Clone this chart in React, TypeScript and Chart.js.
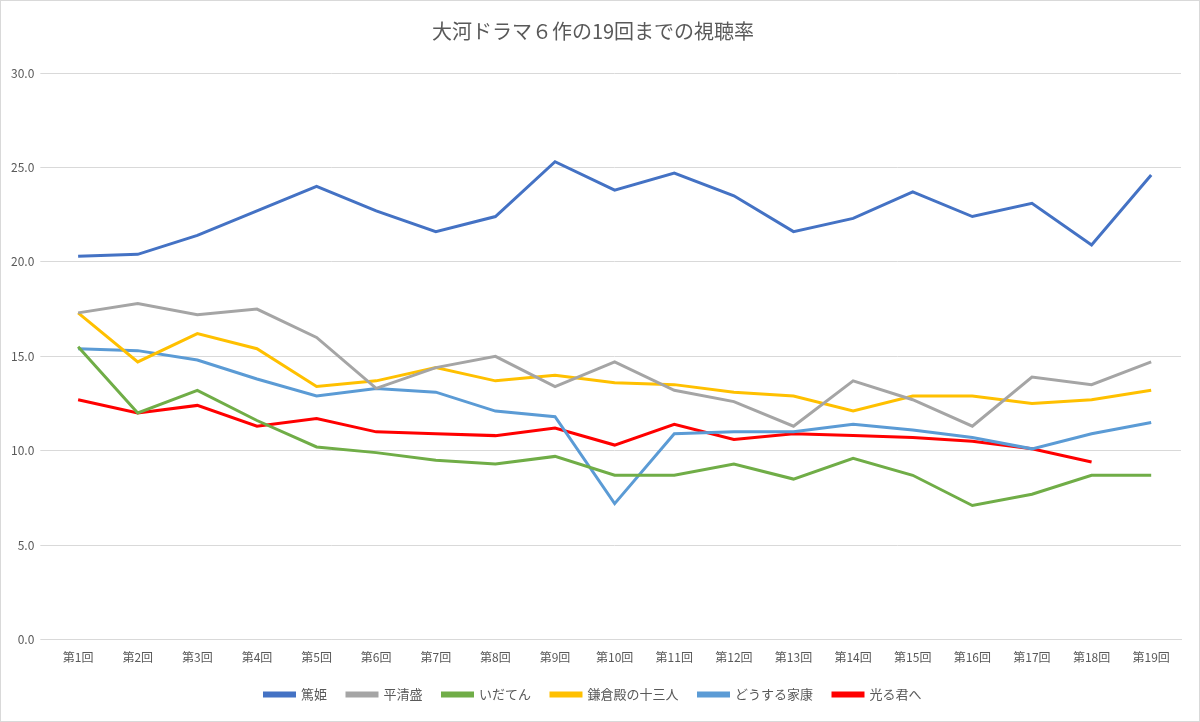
import React, { useEffect, useRef } from "react";
import { Chart, registerables } from "chart.js";
Chart.register(...registerables);

const categories = Array.from({ length: 19 }, (_, i) => `第${i + 1}回`);
const atsuhime = [20.3, 20.4, 21.4, 22.7, 24.0, 22.7, 21.6, 22.4, 25.3, 23.8, 24.7, 23.5, 21.6, 22.3, 23.7, 22.4, 23.1, 20.9, 24.6];
const kiyomori = [17.3, 17.8, 17.2, 17.5, 16.0, 13.3, 14.4, 15.0, 13.4, 14.7, 13.2, 12.6, 11.3, 13.7, 12.7, 11.3, 13.9, 13.5, 14.7];
const idaten = [15.5, 12.0, 13.2, 11.6, 10.2, 9.9, 9.5, 9.3, 9.7, 8.7, 8.7, 9.3, 8.5, 9.6, 8.7, 7.1, 7.7, 8.7, 8.7];
const kamakura = [17.3, 14.7, 16.2, 15.4, 13.4, 13.7, 14.4, 13.7, 14.0, 13.6, 13.5, 13.1, 12.9, 12.1, 12.9, 12.9, 12.5, 12.7, 13.2];
const ieyasu = [15.4, 15.3, 14.8, 13.8, 12.9, 13.3, 13.1, 12.1, 11.8, 7.2, 10.9, 11.0, 11.0, 11.4, 11.1, 10.7, 10.1, 10.9, 11.5];
const hikarukimi = [12.7, 12.0, 12.4, 11.3, 11.7, 11.0, 10.9, 10.8, 11.2, 10.3, 11.4, 10.6, 10.9, 10.8, 10.7, 10.5, 10.1, 9.4, null];

const series = [
  { label: "篤姫", data: atsuhime, color: "#4472C4" },
  { label: "平清盛", data: kiyomori, color: "#A5A5A5" },
  { label: "いだてん", data: idaten, color: "#70AD47" },
  { label: "鎌倉殿の十三人", data: kamakura, color: "#FFC000" },
  { label: "どうする家康", data: ieyasu, color: "#5B9BD5" },
  { label: "光る君へ", data: hikarukimi, color: "#FF0000" },
];

export default function App() {
  const ref = useRef<HTMLCanvasElement>(null);
  useEffect(() => {
    document.body.style.margin = "0";
    const chart = new Chart(ref.current!, {
      type: "line",
      data: {
        labels: categories,
        datasets: series.map((s) => ({
          label: s.label,
          data: s.data,
          borderColor: s.color,
          backgroundColor: s.color,
          borderWidth: 3,
          pointRadius: 0,
          tension: 0,
        })),
      },
      options: {
        animation: false,
        responsive: false,
        layout: { padding: { left: 4, right: 18, top: 10, bottom: 10 } },
        font: { family: "'Noto Sans CJK JP', sans-serif" },
        plugins: {
          title: {
            display: true,
            text: "大河ドラマ６作の19回までの視聴率",
            color: "#595959",
            font: { size: 20, family: "'Noto Sans CJK JP', sans-serif", weight: "normal" },
            padding: { top: 8, bottom: 30 },
          },
          legend: {
            position: "bottom",
            labels: {
              boxWidth: 30,
              boxHeight: 3,
              color: "#595959",
              font: { size: 13, family: "'Noto Sans CJK JP', sans-serif" },
              padding: 20,
            },
          },
        },
        scales: {
          x: {
            offset: true,
            grid: { display: false },
            border: { color: "#D9D9D9" },
            ticks: { color: "#595959", font: { size: 12, family: "'Noto Sans CJK JP', sans-serif" }, maxRotation: 0 },
          },
          y: {
            min: 0,
            max: 30,
            ticks: {
              stepSize: 5,
              color: "#595959",
              font: { size: 12, family: "'Noto Sans CJK JP', sans-serif" },
              callback: (v: any) => Number(v).toFixed(1),
              padding: 6,
            },
            grid: { color: "#D9D9D9" },
            border: { display: false },
          },
        },
      },
    });
    return () => chart.destroy();
  }, []);
  return (
    <div style={{ width: 1200, height: 722, border: "1px solid #D9D9D9", boxSizing: "border-box" }}>
      <canvas ref={ref} width={1198} height={720} />
    </div>
  );
}
